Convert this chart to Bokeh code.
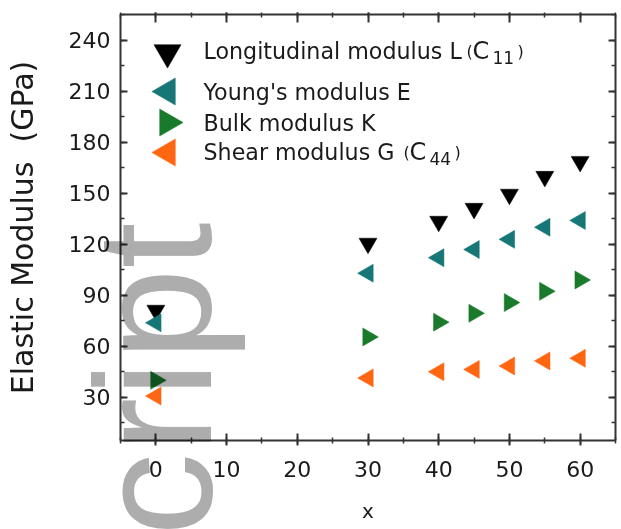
import math
from bokeh.plotting import figure
from bokeh.models import LinearAxis, SingleIntervalTicker, Label, Range1d, Div
from bokeh.layouts import column
from bokeh.embed import file_html
from bokeh.resources import INLINE

# ---------------- data ----------------
x_vals = [0, 30, 40, 45, 50, 55, 60]
longitudinal_L = [81.0, 120.4, 133.3, 140.9, 149.2, 159.7, 168.5]
youngs_E = [73.7, 102.9, 112.0, 116.8, 122.8, 129.9, 133.9]
bulk_K = [39.9, 65.4, 74.1, 79.3, 85.6, 92.2, 98.9]
shear_G = [30.6, 41.3, 44.9, 46.3, 48.3, 51.3, 52.8]

legend_main = ["Longitudinal modulus L", "Young's modulus E", "Bulk modulus K", "Shear modulus G"]
legend_sub = ["11", None, None, "44"]
y_title = "Elastic Modulus\u00a0 (GPa)"
x_title = "x"
watermark = "cript"

# ---------------- layout ----------------
W, H = 621, 528
BL, BR, BT, BB = 120, 6, 14, 88
X0, X1, Y0, Y1 = -5, 65, 4.5, 255
FW = W - BL - BR
FH = H - BT - BB
FONT = "DejaVu Sans"
TXT = "#1a1a1a"
AX = "#333333"

def dx(px):
    return X0 + (px - BL) / FW * (X1 - X0)

def dy(py):
    return Y1 - (py - BT) / FH * (Y1 - Y0)

p = figure(width=W, height=H, x_range=Range1d(X0, X1), y_range=Range1d(Y0, Y1),
           output_backend="svg", toolbar_location=None,
           min_border_left=BL, min_border_right=BR, min_border_top=BT, min_border_bottom=BB)
p.grid.visible = False
p.outline_line_color = None
p.background_fill_color = "white"
p.border_fill_color = "white"

# ---------------- axes ----------------
xa = p.xaxis[0]
xa.ticker = SingleIntervalTicker(interval=10, num_minor_ticks=2)
xa.axis_label = x_title
ya = p.yaxis[0]
ya.ticker = SingleIntervalTicker(interval=30, num_minor_ticks=2)
ya.axis_label = y_title

for a in (xa, ya):
    a.axis_line_width = 2
    a.axis_line_color = AX
    a.major_tick_line_color = AX
    a.minor_tick_line_color = AX
    a.major_tick_line_width = 2
    a.minor_tick_line_width = 1.5
    a.major_label_text_font = FONT
    a.major_label_text_font_size = "22px"
    a.major_label_text_color = TXT
    a.axis_label_text_font = FONT
    a.axis_label_text_font_style = "normal"
    a.axis_label_text_color = TXT

xa.major_tick_in = 7
xa.major_tick_out = 5
xa.minor_tick_in = 3
xa.minor_tick_out = 3
xa.major_label_standoff = 15
xa.axis_label_text_font_size = "20px"
xa.axis_label_standoff = 19

ya.major_tick_in = 7
ya.major_tick_out = 0
ya.minor_tick_in = 4
ya.minor_tick_out = 0
ya.major_label_standoff = 10
ya.axis_label_text_font_size = "30px"
ya.axis_label_standoff = 26

top = LinearAxis(ticker=SingleIntervalTicker(interval=10, num_minor_ticks=2),
                 major_tick_in=8, major_tick_out=2, minor_tick_in=3, minor_tick_out=2,
                 major_label_text_font_size="1px", major_label_text_color=None,
                 major_label_standoff=0)
right = LinearAxis(ticker=SingleIntervalTicker(interval=30, num_minor_ticks=2),
                   major_tick_in=7, major_tick_out=0, minor_tick_in=4, minor_tick_out=0,
                   major_label_text_font_size="1px", major_label_text_color=None,
                   major_label_standoff=0)
for a in (top, right):
    a.axis_line_width = 2
    a.axis_line_color = AX
    a.major_tick_line_color = AX
    a.minor_tick_line_color = AX
    a.major_tick_line_width = 2
    a.minor_tick_line_width = 1.5
p.add_layout(top, "above")
p.add_layout(right, "right")

# ---------------- data markers ----------------
series = [
    (longitudinal_L, "inverted_triangle", 0.0, "#000000"),
    (youngs_E, "triangle", math.pi / 2, "#177777"),
    (bulk_K, "triangle", -math.pi / 2, "#187a2a"),
    (shear_G, "triangle", math.pi / 2, "#ff6612"),
]
for vals, mk, ang, col in series:
    p.scatter(x_vals, vals, marker=mk, angle=ang, size=18,
              fill_color=col, line_color=col, line_width=0.5)

# ---------------- legend (manual, to allow subscripts) ----------------
leg_marker_y = [52, 91, 122, 152]
leg_mid_y = [50, 91, 122, 151]
for (vals, mk, ang, col), my in zip(series, leg_marker_y):
    p.scatter([dx(167)], [dy(my)], marker=mk, angle=ang, size=27,
              fill_color=col, line_color=col, line_width=0.5)

sub_x = {0: (466, 472, 492, 517), 3: (403, 409, 429, 454)}
for i, (txt, my) in enumerate(zip(legend_main, leg_mid_y)):
    p.add_layout(Label(x=dx(203), y=dy(my), text=txt, text_font=FONT, text_font_size="22.2px",
                       text_color=TXT, text_baseline="middle"))
    if legend_sub[i]:
        xo, xc, xs, xe = sub_x[i]
        p.add_layout(Label(x=dx(xo), y=dy(my + 1), text="(", text_font=FONT, text_font_size="16px",
                           text_color=TXT, text_baseline="middle"))
        p.add_layout(Label(x=dx(xc), y=dy(my), text="C", text_font=FONT, text_font_size="24px",
                           text_color=TXT, text_baseline="middle"))
        p.add_layout(Label(x=dx(xs), y=dy(my + 7), text=legend_sub[i], text_font=FONT,
                           text_font_size="17px", text_color=TXT, text_baseline="middle"))
        p.add_layout(Label(x=dx(xe), y=dy(my + 1), text=")", text_font=FONT, text_font_size="16px",
                           text_color=TXT, text_baseline="middle"))

# ---------------- watermark (overlaid, multiplied onto the plot) ----------------
wm_left, wm_top, wm_size = 71, 536, 166
wm = Div(text=(
    f'<span style="position:fixed; left:{wm_left}px; top:{wm_top}px; '
    f'transform:rotate(-90deg); transform-origin:0 0; font-family:\'Liberation Sans\'; '
    f'font-size:{wm_size}px; line-height:1; color:#adadad; mix-blend-mode:multiply; '
    f'white-space:nowrap; pointer-events:none; margin:0; padding:0;">{watermark}</span>'),
    width=0, height=0)

layout = column(p, wm, spacing=0)
open("out.html", "w").write(file_html(layout, INLINE))
